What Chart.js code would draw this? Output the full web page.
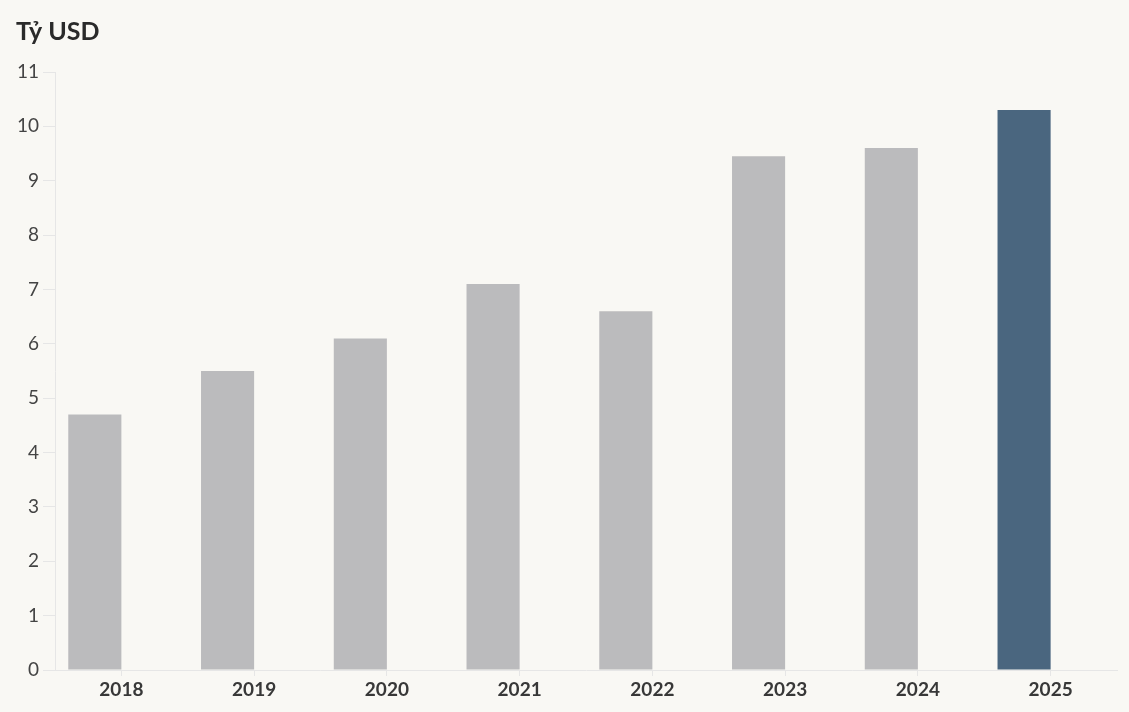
<!DOCTYPE html>
<html>
<head>
<meta charset="utf-8">
<script src="https://cdn.jsdelivr.net/npm/chart.js@4"></script>
<style>
	html, body { margin: 0; padding: 0; background: #f9f8f4; }
	#wrap { width: 1129px; height: 712px; }
</style>
</head>
<body>
<div id="wrap"><canvas id="chart"></canvas></div>
<script>
// ----------------------------------------------------------------------
const years = ["2018","2019","2020","2021","2022","2023","2024","2025"]
const values = [4.7, 5.5, 6.1, 7.1, 6.6, 9.45, 9.6, 10.3]
const y_ticks = [0,1,2,3,4,5,6,7,8,9,10,11]
const unit_label = "Tỷ USD"

const font_family = "'Source Sans Pro', Lato, 'Noto Sans', sans-serif"

// ----------------------------------------------------------------------
function bar_colors ()
{
	const colors = []
	for (var it in years)
		{
		colors.push (it == years.length - 1 ? "#4a667f" : "#bbbbbd")
		}
	return colors
}

// ----------------------------------------------------------------------
const config = {
	type: 'bar',
	data: {
		labels: years,
		datasets: [
			{
			label: unit_label,
			data: values,
			backgroundColor: bar_colors(),
			borderWidth: 0,
			barPercentage: 1.0,
			categoryPercentage: 0.8
			},
			{
			label: "",
			data: years.map(() => null),
			barPercentage: 1.0,
			categoryPercentage: 0.8
			}
		]
		},
	options: {
		responsive: true,
		maintainAspectRatio: false,
		animation: false,
		layout: { padding: { left: 16, right: 12, top: 0, bottom: 0 } },
		plugins: {
			legend: { display: false },
			tooltip: { enabled: false },
			title: {
				display: true,
				text: unit_label,
				align: 'start',
				color: '#2a2a2a',
				font: { family: font_family, size: 25, weight: 'bold' },
				padding: { top: 17, bottom: 25, left: 4 }
				}
			},
		scales: {
			x: {
				grid: { drawOnChartArea: false, offset: false, tickLength: 6, color: '#e6e6e6' },
				border: { color: '#e6e6e6' },
				ticks: { color: '#383838', font: { family: font_family, size: 19, weight: 'bold' }, padding: 2 },
				afterFit: function (scale) { scale.height = 42 }
				},
			y: {
				min: 0,
				max: 11,
				afterBuildTicks: function (scale) { scale.ticks = y_ticks.map(v => ({ value: v })) },
				grid: { drawOnChartArea: false, tickLength: 12, color: '#e6e6e6' },
				border: { color: '#e6e6e6' },
				ticks: { color: '#444444', font: { family: font_family, size: 19 }, padding: 4 },
				afterFit: function (scale) { scale.width = 39 }
				}
			}
		}
	}

const chart = new Chart(document.getElementById("chart"), config)
</script>
</body>
</html>
